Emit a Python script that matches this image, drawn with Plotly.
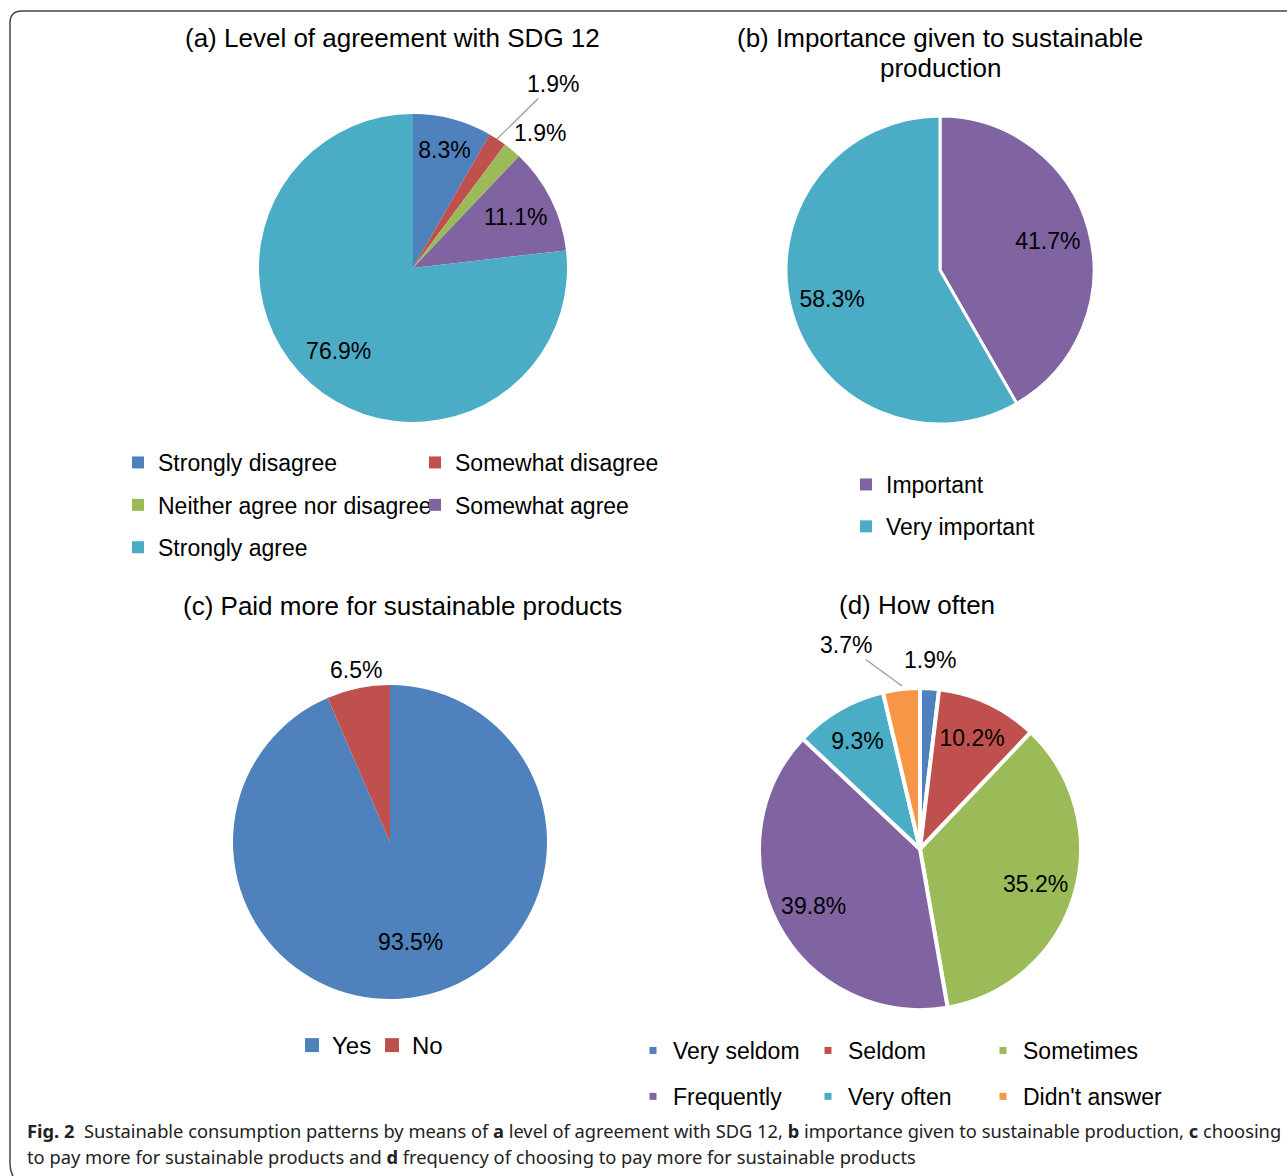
import plotly.graph_objects as go

W, H = 1287, 1176

# ---------------- data ----------------
labels_a = ["Strongly disagree", "Somewhat disagree", "Neither agree nor disagree",
            "Somewhat agree", "Strongly agree"]
values_a = [8.3, 1.9, 1.9, 11.1, 76.9]

labels_b = ["Important", "Very important"]
values_b = [41.7, 58.3]

labels_c = ["Yes", "No"]
values_c = [93.5, 6.5]

labels_d = ["Very seldom", "Seldom", "Sometimes", "Frequently", "Very often", "Didn't answer"]
values_d = [1.9, 10.2, 35.2, 39.8, 9.3, 3.7]

titles = [["(a) Level of agreement with SDG 12"],
          ["(b) Importance given to sustainable", "production"],
          ["(c) Paid more for sustainable products"],
          ["(d) How often"]]

# ---------------- styles ----------------
BLUE, RED, GREEN, PURPLE, TEAL, ORANGE = "#4F81BD", "#C0504D", "#9BBB59", "#8064A2", "#4BACC6", "#F79646"
colors_a = [BLUE, RED, GREEN, PURPLE, TEAL]
colors_b = [PURPLE, TEAL]
colors_c = [BLUE, RED]
colors_d = [BLUE, RED, GREEN, PURPLE, TEAL, ORANGE]

FONT = "Liberation Sans, Arial, sans-serif"
LABEL_SIZE = 23


def px(x):
    return x / W


def py(y):
    return 1 - y / H


def dom(cx, cy, r):
    return dict(x=[px(cx - r), px(cx + r)], y=[py(cy + r), py(cy - r)])


fig = go.Figure()


def add_pie(labels, values, colors, domain, positions, line_w, hole):
    # the slices
    fig.add_trace(go.Pie(
        labels=labels, values=values, sort=False, direction="clockwise", rotation=0,
        marker=dict(colors=colors, line=dict(color="white", width=line_w)),
        textinfo="none", domain=domain, showlegend=False, hoverinfo="label+percent",
    ))
    # the inside percentage labels, set in the outer ring of the same pie
    fig.add_trace(go.Pie(
        labels=labels, values=values, sort=False, direction="clockwise", rotation=0,
        hole=hole, marker=dict(colors=["rgba(0,0,0,0)"] * len(values), line=dict(width=0)),
        texttemplate="%{value}%", textposition=positions,
        insidetextorientation="horizontal",
        textfont=dict(family=FONT, size=LABEL_SIZE, color="black"),
        domain=domain, showlegend=False, hoverinfo="skip",
    ))


add_pie(labels_a, values_a, colors_a, dom(413, 268, 154),
        ["inside", "none", "none", "inside", "inside"], 0, 0.45)
add_pie(labels_b, values_b, colors_b, dom(940, 270, 154), ["inside", "inside"], 3, 0.45)
add_pie(labels_c, values_c, colors_c, dom(390, 842, 157), ["inside", "none"], 0, 0.3)
add_pie(labels_d, values_d, colors_d, dom(920, 849, 161),
        ["none", "inside", "inside", "inside", "inside", "none"], 4, 0.5)


# legend entries (drawn by the library's legend, one legend per column)
def add_legend_entries(labels, colors, legend_name, size):
    for lab, col in zip(labels, colors):
        fig.add_trace(go.Scatter(
            x=[None], y=[None], mode="markers", name=lab,
            marker=dict(symbol="square", size=size, color=col),
            legend=legend_name, legendgroup=legend_name + lab, hoverinfo="skip",
        ))


add_legend_entries([labels_a[0], labels_a[2], labels_a[4]], [colors_a[0], colors_a[2], colors_a[4]], "legend", 12)
add_legend_entries([labels_a[1], labels_a[3]], [colors_a[1], colors_a[3]], "legend2", 12)
add_legend_entries(labels_b, colors_b, "legend3", 12)
add_legend_entries(labels_c, colors_c, "legend4", 14)
add_legend_entries([labels_d[0], labels_d[3]], [colors_d[0], colors_d[3]], "legend5", 7)
add_legend_entries([labels_d[1], labels_d[4]], [colors_d[1], colors_d[4]], "legend6", 7)
add_legend_entries([labels_d[2], labels_d[5]], [colors_d[2], colors_d[5]], "legend7", 7)


def legend_cfg(x, y, gap, orientation="v", size=23, entrywidth=None):
    cfg = dict(x=px(x), y=py(y), xanchor="left", yanchor="top", orientation=orientation,
               bgcolor="rgba(0,0,0,0)", borderwidth=0, indentation=-10,
               tracegroupgap=gap, itemclick=False, itemdoubleclick=False,
               font=dict(family=FONT, size=size, color="black"))
    if entrywidth:
        cfg.update(entrywidth=entrywidth, entrywidthmode="pixels")
    return cfg


layout_legends = dict(
    legend=legend_cfg(128, 441, 9.5),
    legend2=legend_cfg(425, 441, 9.5),
    legend3=legend_cfg(856, 463, 9),
    legend4=legend_cfg(302, 1023, 0, "h", 24, 45),
    legend5=legend_cfg(643, 1029, 13),
    legend6=legend_cfg(818, 1029, 13),
    legend7=legend_cfg(993, 1029, 13),
)

annotations = []
title_pos = [(392, [38]), (940, [38, 68]), (402, [606]), (917, [605])]
for lines, (x, ys) in zip(titles, title_pos):
    for t, y in zip(lines, ys):
        annotations.append(dict(text=t, x=px(x), y=py(y), xref="paper", yref="paper",
                                xanchor="center", yanchor="middle", showarrow=False,
                                font=dict(family=FONT, size=26, color="black")))

# percentage labels of the thin slices, placed outside like the original
outside_labels = [
    (values_a[1], (497, 139), (553, 84), True),
    (values_a[2], None, (540, 133), False),
    (values_c[1], None, (356, 670), False),
    (values_d[0], None, (930, 660), False),
    (values_d[5], (902, 686), (846, 645), True),
]
for v, tip, (tx, ty), arrow in outside_labels:
    if arrow:
        annotations.append(dict(text=f"{v}%", x=px(tip[0]), y=py(tip[1]), xref="paper", yref="paper",
                                ax=tx - tip[0], ay=ty - tip[1], showarrow=True, arrowhead=0,
                                arrowwidth=1.2, arrowcolor="#999999", standoff=0,
                                font=dict(family=FONT, size=LABEL_SIZE, color="black")))
    else:
        annotations.append(dict(text=f"{v}%", x=px(tx), y=py(ty), xref="paper", yref="paper",
                                xanchor="center", yanchor="middle", showarrow=False,
                                font=dict(family=FONT, size=LABEL_SIZE, color="black")))

cap1 = ("<b>Fig. 2</b>\u00a0 Sustainable consumption patterns by means of <b>a</b> level of agreement "
        "with SDG 12, <b>b</b> importance given to sustainable production, <b>c</b> choosing")
cap2 = ("to pay more for sustainable products and <b>d</b> frequency of choosing to pay more "
        "for sustainable products")
for t, y in [(cap1, 1130), (cap2, 1156)]:
    annotations.append(dict(text=t, x=px(25), y=py(y), xref="paper", yref="paper",
                            xanchor="left", yanchor="middle", showarrow=False, align="left",
                            font=dict(family="Noto Sans, sans-serif", size=18.3, color="#222222")))

frame = dict(type="path", xref="paper", yref="paper",
             path=(f"M {px(1300)},{py(11)} L {px(22)},{py(11)} Q {px(10)},{py(11)} {px(10)},{py(23)} "
                   f"L {px(10)},{py(1164)} Q {px(10)},{py(1172)} {px(14)},{py(1178)}"),
             line=dict(color="#444444", width=1.5))

fig.update_layout(
    width=W, height=H, margin=dict(l=0, r=0, t=0, b=0),
    paper_bgcolor="white", plot_bgcolor="white",
    xaxis=dict(visible=False), yaxis=dict(visible=False),
    annotations=annotations, shapes=[frame],
    uniformtext=dict(minsize=LABEL_SIZE, mode="show"),
    **layout_legends,
)

fig.write_html("out.html")
